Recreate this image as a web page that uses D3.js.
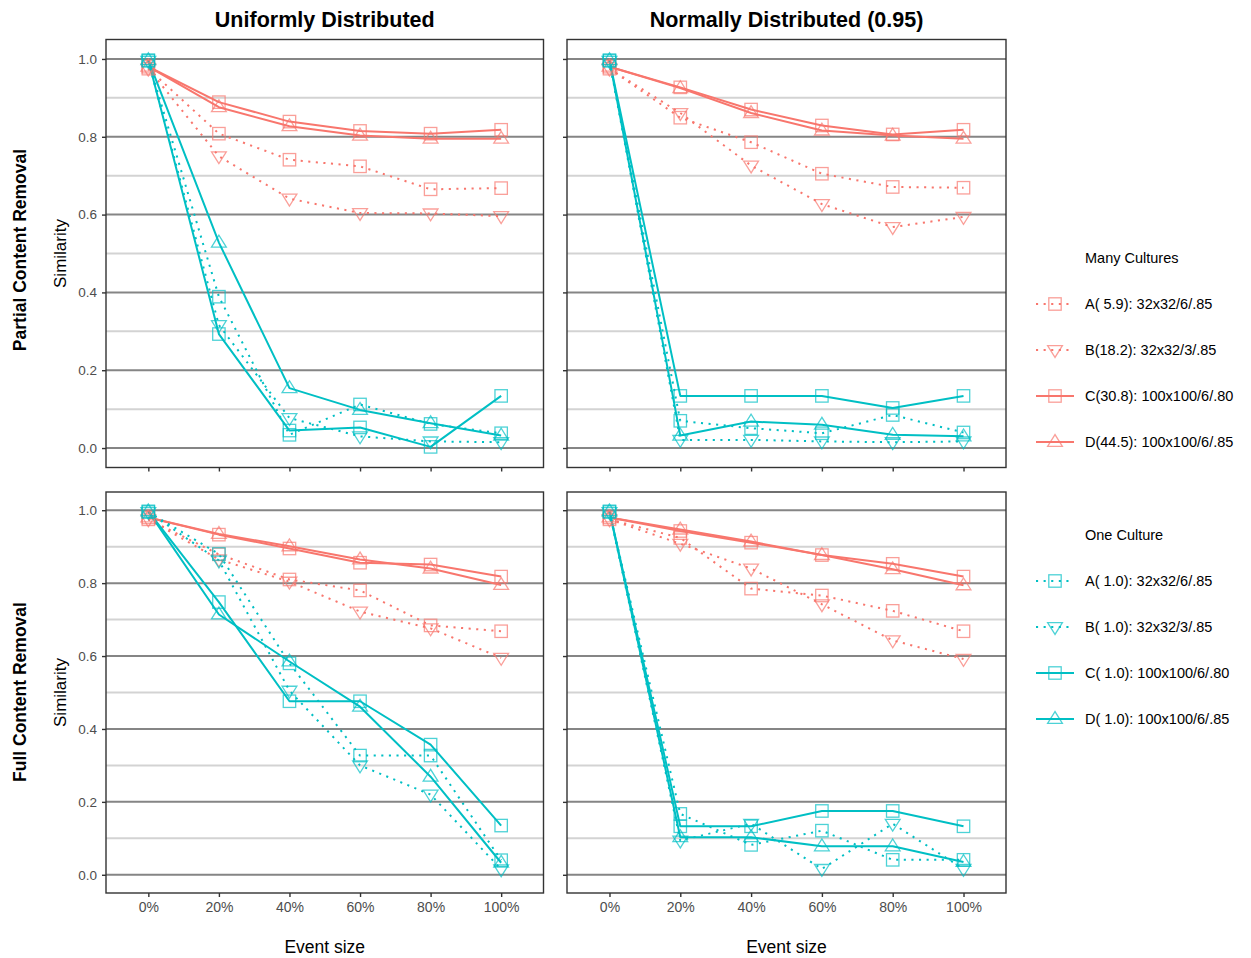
<!DOCTYPE html>
<html>
<head>
<meta charset="utf-8">
<script src="https://cdn.jsdelivr.net/npm/d3@7"></script>
<style>
  html, body { margin: 0; padding: 0; background: #fff; }
  svg { display: block; font-family: "Liberation Sans", Arial, sans-serif; }
</style>
</head>
<body>
<svg id="chart" width="1251" height="958"></svg>
<script>
// ---------- data ----------
const categories = ["0%", "20%", "40%", "60%", "80%", "100%"];
const yTicks = [0, 0.2, 0.4, 0.6, 0.8, 1.0];
const yMinor = [0.1, 0.3, 0.5, 0.7, 0.9];
const colTitles = ["Uniformly Distributed", "Normally Distributed (0.95)"];
const rowTitles = ["Partial Content Removal", "Full Content Removal"];
const seriesKeys = ["A", "B", "C", "D"];
const manyLabels = ["A( 5.9): 32x32/6/.85", "B(18.2): 32x32/3/.85", "C(30.8): 100x100/6/.80", "D(44.5): 100x100/6/.85"];
const oneLabels  = ["A( 1.0): 32x32/6/.85", "B( 1.0): 32x32/3/.85", "C( 1.0): 100x100/6/.80", "D( 1.0): 100x100/6/.85"];

// Uniform / Partial
const uniPartialManyA = [0.975, 0.808, 0.741, 0.724, 0.665, 0.668];
const uniPartialManyB = [0.975, 0.750, 0.641, 0.604, 0.603, 0.596];
const uniPartialManyC = [0.980, 0.889, 0.839, 0.815, 0.808, 0.818];
const uniPartialManyD = [0.980, 0.876, 0.827, 0.803, 0.795, 0.795];
const uniPartialOneA  = [0.995, 0.389, 0.034, 0.112, 0.062, 0.038];
const uniPartialOneB  = [0.995, 0.316, 0.077, 0.030, 0.017, 0.015];
const uniPartialOneC  = [0.997, 0.293, 0.045, 0.053, 0.003, 0.134];
const uniPartialOneD  = [0.997, 0.528, 0.154, 0.098, 0.064, 0.032];
// Normal / Partial
const normPartialManyA = [0.975, 0.849, 0.786, 0.705, 0.671, 0.669];
const normPartialManyB = [0.975, 0.861, 0.726, 0.627, 0.568, 0.594];
const normPartialManyC = [0.980, 0.927, 0.870, 0.829, 0.806, 0.818];
const normPartialManyD = [0.980, 0.925, 0.861, 0.816, 0.803, 0.795];
const normPartialOneA  = [0.995, 0.070, 0.051, 0.038, 0.085, 0.040];
const normPartialOneB  = [0.995, 0.021, 0.021, 0.017, 0.015, 0.017];
const normPartialOneC  = [0.997, 0.134, 0.134, 0.134, 0.103, 0.134];
const normPartialOneD  = [0.997, 0.032, 0.068, 0.060, 0.034, 0.030];
// Uniform / Full
const uniFullManyA = [0.975, 0.879, 0.810, 0.780, 0.684, 0.668];
const uniFullManyB = [0.975, 0.865, 0.804, 0.722, 0.676, 0.595];
const uniFullManyC = [0.980, 0.933, 0.895, 0.856, 0.851, 0.818];
const uniFullManyD = [0.980, 0.935, 0.901, 0.865, 0.840, 0.795];
const uniFullOneA  = [0.995, 0.880, 0.580, 0.327, 0.327, 0.040];
const uniFullOneB  = [0.995, 0.862, 0.505, 0.300, 0.220, 0.015];
const uniFullOneC  = [0.997, 0.748, 0.476, 0.476, 0.357, 0.135];
const uniFullOneD  = [0.997, 0.714, 0.585, 0.461, 0.269, 0.033];
// Normal / Full
const normFullManyA = [0.975, 0.924, 0.785, 0.766, 0.724, 0.668];
const normFullManyB = [0.975, 0.908, 0.840, 0.742, 0.643, 0.592];
const normFullManyC = [0.980, 0.943, 0.911, 0.877, 0.853, 0.818];
const normFullManyD = [0.980, 0.947, 0.914, 0.877, 0.838, 0.794];
const normFullOneA  = [0.995, 0.167, 0.082, 0.121, 0.041, 0.041];
const normFullOneB  = [0.995, 0.094, 0.140, 0.016, 0.140, 0.016];
const normFullOneC  = [0.997, 0.133, 0.133, 0.175, 0.175, 0.133];
const normFullOneD  = [0.997, 0.103, 0.103, 0.078, 0.078, 0.035];

const panelsData = [
  [ // row 0: Partial
    { many: [uniPartialManyA, uniPartialManyB, uniPartialManyC, uniPartialManyD],
      one:  [uniPartialOneA, uniPartialOneB, uniPartialOneC, uniPartialOneD] },
    { many: [normPartialManyA, normPartialManyB, normPartialManyC, normPartialManyD],
      one:  [normPartialOneA, normPartialOneB, normPartialOneC, normPartialOneD] }
  ],
  [ // row 1: Full
    { many: [uniFullManyA, uniFullManyB, uniFullManyC, uniFullManyD],
      one:  [uniFullOneA, uniFullOneB, uniFullOneC, uniFullOneD] },
    { many: [normFullManyA, normFullManyB, normFullManyC, normFullManyD],
      one:  [normFullOneA, normFullOneB, normFullOneC, normFullOneD] }
  ]
];

// ---------- styles ----------
const colMany = "#F8766D", colOne = "#00BFC4";
const shapes = ["square", "down", "square", "up"];
const dashed = [true, true, false, false];
const dotDash = "2.1 5.5";

// ---------- layout ----------
const cols = [[106, 543.5], [567, 1006]];
const rows = [[39.5, 467.5], [492, 893]];

const svg = d3.select("#chart");

function marker(g, shape, x, y, color) {
  const s = 6.2;
  if (shape === "square") {
    g.append("rect").attr("x", x - s).attr("y", y - s).attr("width", 2 * s).attr("height", 2 * s)
      .attr("fill", "none").attr("stroke", color).attr("stroke-width", 1.3).attr("stroke-opacity", 0.7);
  } else {
    const h = 7.4, w = 7.4;
    let pts;
    if (shape === "up") pts = [[x, y - h], [x - w, y + h * 0.6], [x + w, y + h * 0.6]];
    else pts = [[x, y + h], [x - w, y - h * 0.6], [x + w, y - h * 0.6]];
    g.append("path").attr("d", d3.line()(pts) + "Z")
      .attr("fill", "none").attr("stroke", color).attr("stroke-width", 1.3).attr("stroke-opacity", 0.7);
  }
}

rows.forEach((rr, ri) => {
  cols.forEach((cc, ci) => {
    const x = d3.scalePoint().domain(categories).range(cc).padding(0.6);
    const y = d3.scaleLinear().domain([-0.05, 1.05]).range([rr[1], rr[0]]);
    const g = svg.append("g");

    // gridlines
    g.selectAll(".minor").data(yMinor).enter().append("line")
      .attr("x1", cc[0]).attr("x2", cc[1]).attr("y1", d => y(d)).attr("y2", d => y(d))
      .attr("stroke", "#d3d3d3").attr("stroke-width", 2);
    g.selectAll(".major").data(yTicks).enter().append("line")
      .attr("x1", cc[0]).attr("x2", cc[1]).attr("y1", d => y(d)).attr("y2", d => y(d))
      .attr("stroke", "#858585").attr("stroke-width", 2);

    // series
    const pd = panelsData[ri][ci];
    const groups = [{ vals: pd.many, color: colMany }, { vals: pd.one, color: colOne }];
    const line = d3.line().x((d, i) => x(categories[i])).y(d => y(d));
    const clip = g.append("g");
    groups.forEach(grp => {
      grp.vals.forEach((vals, si) => {
        clip.append("path").attr("d", line(vals)).attr("fill", "none")
          .attr("stroke", grp.color).attr("stroke-width", 2)
          .attr("stroke-dasharray", dashed[si] ? dotDash : null)
          .attr("stroke-linejoin", "round");
      });
    });
    groups.forEach(grp => {
      grp.vals.forEach((vals, si) => {
        vals.forEach((v, i) => marker(clip, shapes[si], x(categories[i]), y(v), grp.color));
      });
    });

    // border
    g.append("rect").attr("x", cc[0]).attr("y", rr[0]).attr("width", cc[1] - cc[0]).attr("height", rr[1] - rr[0])
      .attr("fill", "none").attr("stroke", "#333").attr("stroke-width", 1.4);

    // y axis
    const ya = svg.append("g").attr("transform", `translate(${cc[0]},0)`)
      .call(d3.axisLeft(y).tickValues(yTicks).tickFormat(d3.format(".1f")).tickSize(4).tickPadding(5));
    ya.select(".domain").remove();
    ya.selectAll(".tick line").attr("stroke", "#333").attr("stroke-width", 1.4);
    ya.selectAll(".tick text").attr("fill", "#4d4d4d").style("font-size", "13.5px")
      .style("font-family", "'Liberation Sans', Arial, sans-serif");
    if (ci === 1) ya.selectAll(".tick text").remove();

    // x axis
    const xa = svg.append("g").attr("transform", `translate(0,${rr[1]})`)
      .call(d3.axisBottom(x).tickSize(4).tickPadding(5));
    xa.select(".domain").remove();
    xa.selectAll(".tick line").attr("stroke", "#333").attr("stroke-width", 1.4);
    xa.selectAll(".tick text").attr("fill", "#4d4d4d").style("font-size", "14px")
      .style("font-family", "'Liberation Sans', Arial, sans-serif");
    if (ri === 0) xa.selectAll(".tick text").remove();

    if (ri === 0) {
      svg.append("text").attr("x", (cc[0] + cc[1]) / 2).attr("y", 20)
        .attr("text-anchor", "middle").attr("dominant-baseline", "central")
        .style("font-size", "21.5px").style("font-weight", "bold").text(colTitles[ci]);
    }
    if (ri === 1) {
      svg.append("text").attr("x", (cc[0] + cc[1]) / 2).attr("y", 947)
        .attr("text-anchor", "middle").attr("dominant-baseline", "central")
        .style("font-size", "17.5px").text("Event size");
    }
    if (ci === 0) {
      const cy = ri === 0 ? 250 : 692;
      svg.append("text").attr("transform", `translate(20,${cy}) rotate(-90)`)
        .attr("text-anchor", "middle").attr("dominant-baseline", "central")
        .style("font-size", "17.5px").style("font-weight", "bold").text(rowTitles[ri]);
      svg.append("text").attr("transform", `translate(60,${(rr[0] + rr[1]) / 2}) rotate(-90)`)
        .attr("text-anchor", "middle").attr("dominant-baseline", "central")
        .style("font-size", "17px").text("Similarity");
    }
  });
});

// ---------- legends ----------
function legend(title, labels, color, ty, y0) {
  const g = svg.append("g");
  g.append("text").attr("x", 1085).attr("y", ty).attr("dominant-baseline", "central")
    .style("font-size", "14.5px").text(title);
  labels.forEach((lab, i) => {
    const yy = y0 + i * 46;
    g.append("line").attr("x1", 1036).attr("x2", 1074).attr("y1", yy).attr("y2", yy)
      .attr("stroke", color).attr("stroke-width", 2)
      .attr("stroke-dasharray", dashed[i] ? dotDash : null);
    marker(g, shapes[i], 1055, yy, color);
    g.append("text").attr("x", 1085).attr("y", yy).attr("dominant-baseline", "central")
      .style("font-size", "14.5px").text(lab);
  });
}
legend("Many Cultures", manyLabels, colMany, 258, 304);
legend("One Culture", oneLabels, colOne, 535, 581);
</script>
</body>
</html>
